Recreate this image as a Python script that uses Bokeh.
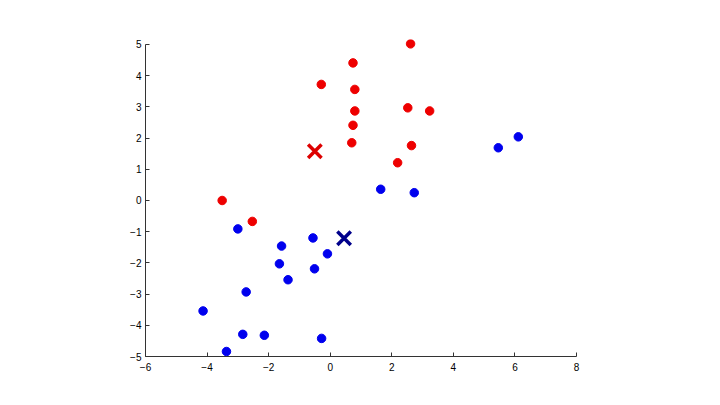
from bokeh.plotting import figure
from bokeh.models import Range1d, FixedTicker
from bokeh.embed import file_html
from bokeh.resources import INLINE

red_x = [-3.51, -0.29, 0.74, 0.80, 0.80, 0.74, 0.70, 2.61, 2.52, 3.23, 2.64, 2.19, -2.53]
red_y = [0.00, 3.72, 4.41, 3.56, 2.87, 2.41, 1.85, 5.02, 2.97, 2.87, 1.76, 1.21, -0.67]

blue_x = [1.64, 2.73, 5.46, 6.11, -3.00, -1.58, -0.56, -0.09, -1.65, -0.51, -1.37, -2.73,
          -4.13, -2.84, -2.14, -0.28, -3.37]
blue_y = [0.36, 0.25, 1.69, 2.04, -0.91, -1.46, -1.20, -1.71, -2.03, -2.19, -2.54, -2.93,
          -3.54, -4.29, -4.32, -4.42, -4.84]

red_centroid = ([-0.50], [1.58])
blue_centroid = ([0.45], [-1.21])

x_ticks = [-6, -4, -2, 0, 2, 4, 6, 8]
y_ticks = [-5, -4, -3, -2, -1, 0, 1, 2, 3, 4, 5]

p = figure(width=704, height=389, output_backend="svg", toolbar_location=None,
           x_range=Range1d(-6, 8), y_range=Range1d(-5, 5.16),
           min_border_left=145, min_border_right=128, min_border_top=39, min_border_bottom=33)
p.outline_line_color = None
p.xgrid.visible = False
p.ygrid.visible = False
p.background_fill_color = "white"

for ax in (p.xaxis[0], p.yaxis[0]):
    ax.minor_tick_line_color = None
    ax.major_tick_in = 4
    ax.major_tick_out = 0
    ax.axis_line_color = "#333333"
    ax.major_tick_line_color = "#333333"
    ax.major_label_text_font = "Liberation Sans"
    ax.major_label_text_font_size = "10px"
    ax.major_label_text_color = "black"
p.xaxis.major_label_standoff = 6
p.yaxis.major_label_standoff = 4
p.yaxis.bounds = (-5, 5)
p.xaxis.ticker = FixedTicker(ticks=x_ticks)
p.yaxis.ticker = FixedTicker(ticks=y_ticks)

p.scatter(red_x, red_y, marker="circle", size=8.5, fill_color="#ee0000", line_color="#ee0000")
p.scatter(blue_x, blue_y, marker="circle", size=8.5, fill_color="#0000ee", line_color="#0000ee")
p.scatter(red_centroid[0], red_centroid[1], marker="x", size=19, line_color="#dd0000", line_width=3.5)
p.scatter(blue_centroid[0], blue_centroid[1], marker="x", size=19, line_color="#00008b", line_width=3.5)

open("out.html", "w").write(file_html(p, INLINE))
